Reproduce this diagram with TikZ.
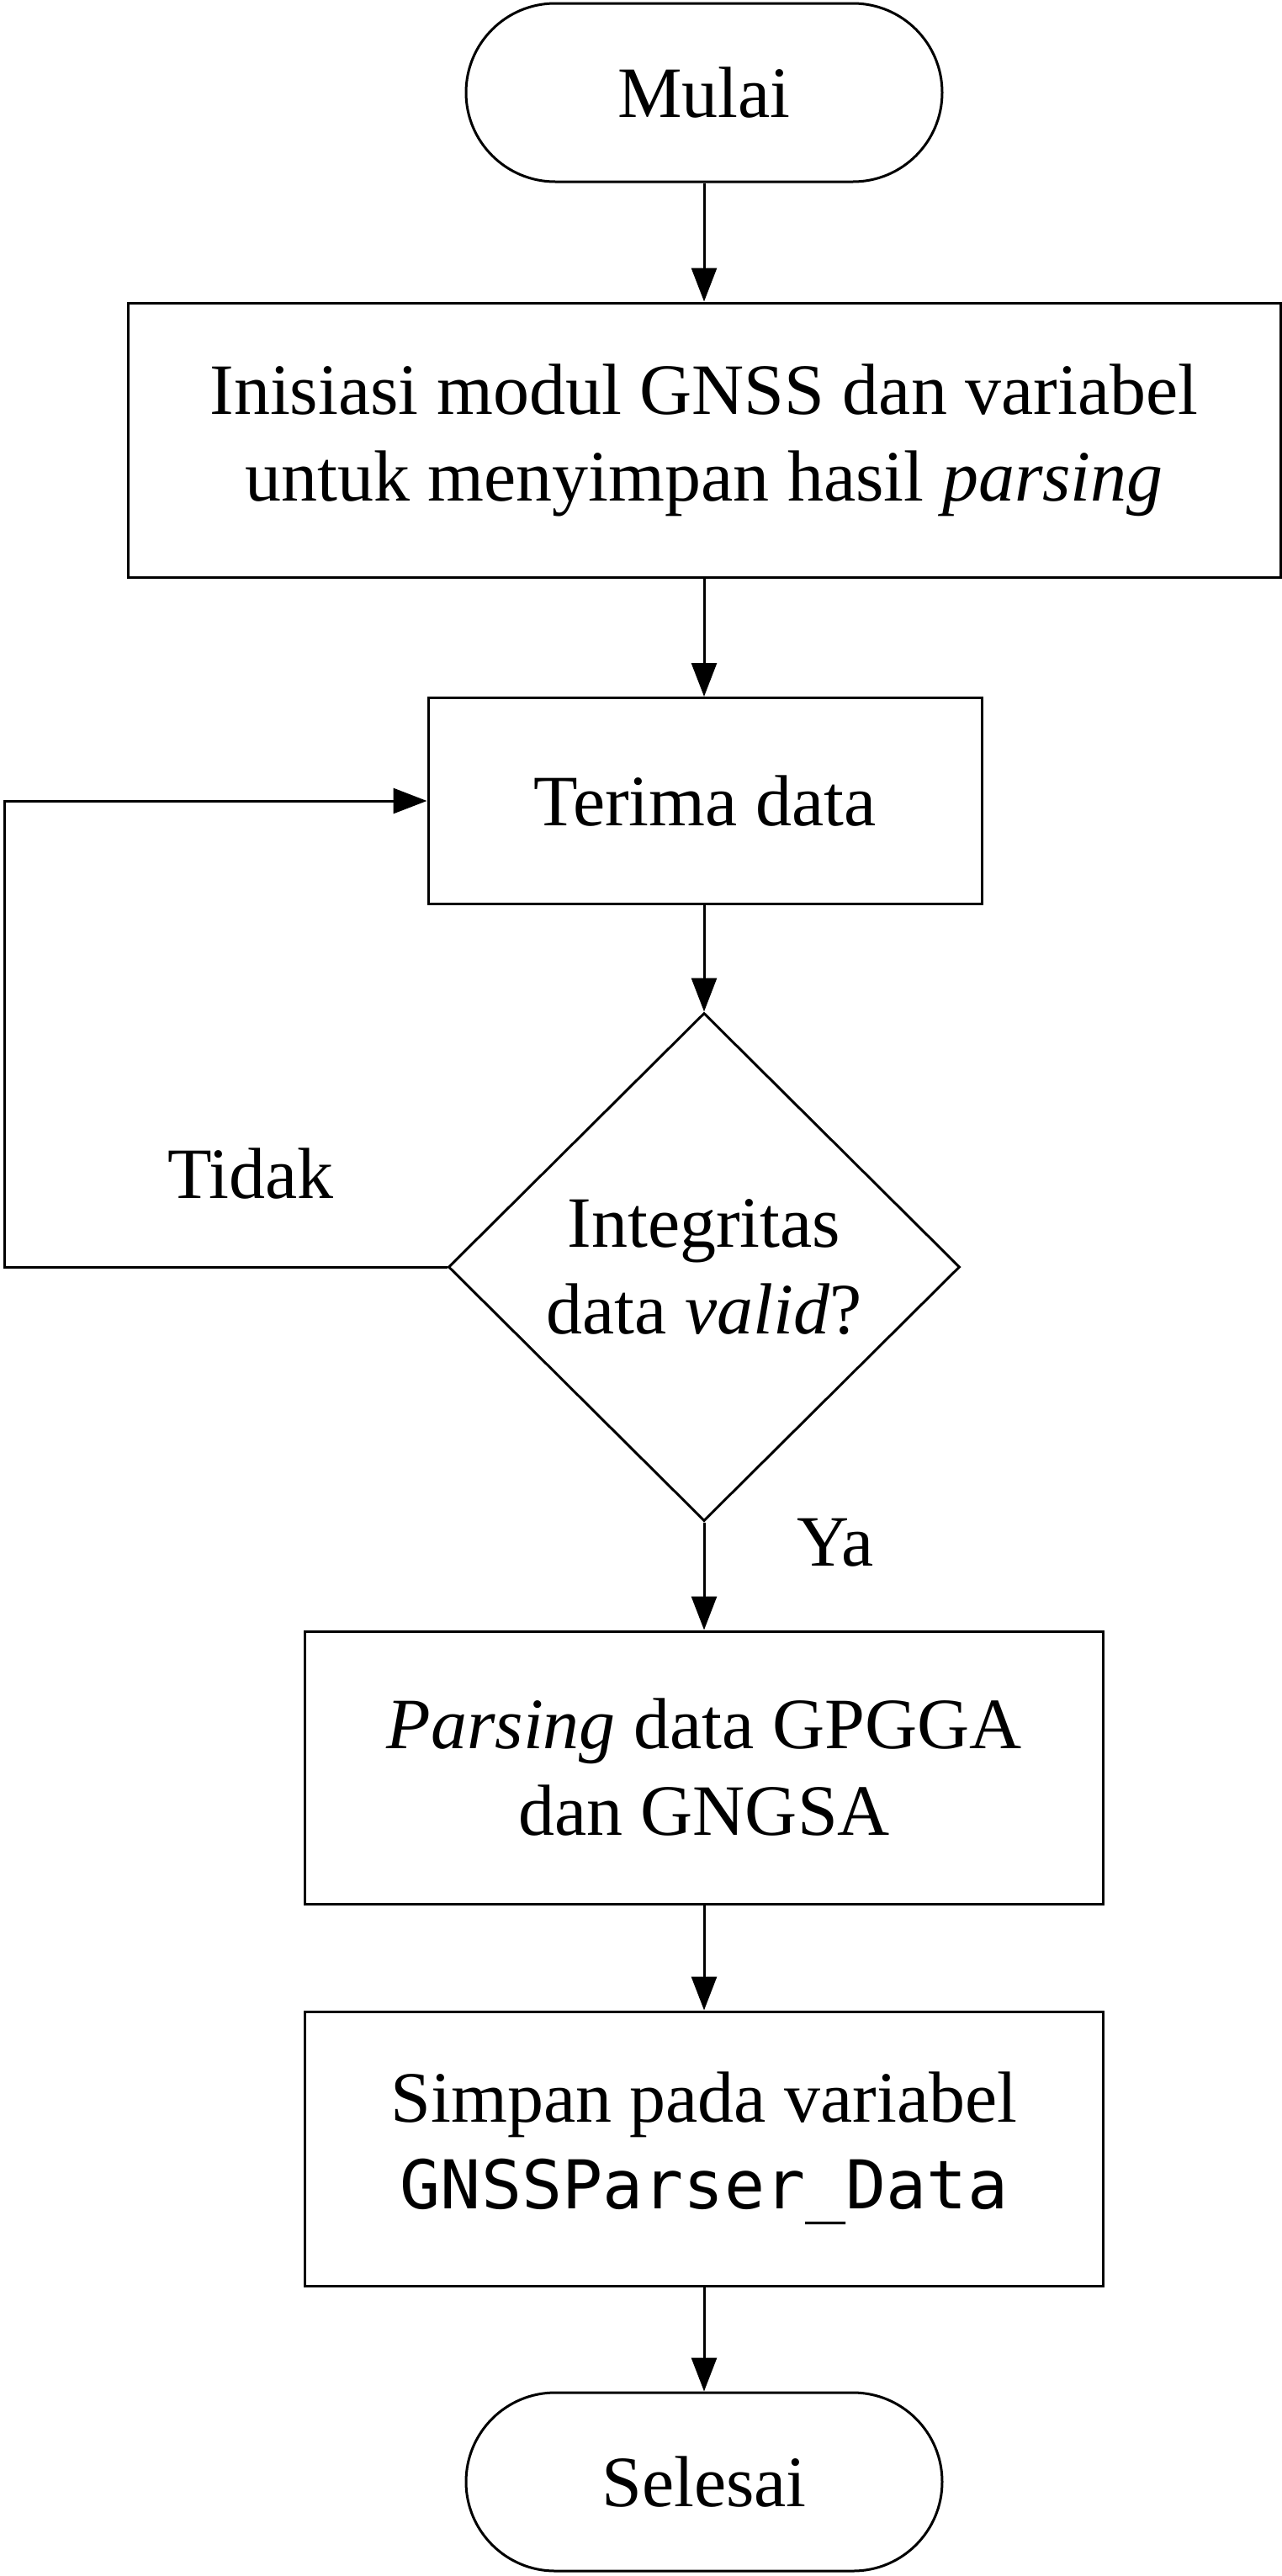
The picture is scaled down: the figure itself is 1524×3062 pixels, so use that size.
\documentclass[tikz,border=0pt]{standalone}
\usepackage{fontspec}
\setmainfont{Liberation Serif}
\setmonofont{DejaVu Sans Mono}
\usetikzlibrary{shapes.geometric,arrows.meta}
\begin{document}
\begin{tikzpicture}[x=0.5pt,y=-0.5pt,
  every node/.style={font=\fontsize{43pt}{51.5pt}\selectfont},
  term/.style={draw,line width=1.5pt,rectangle,rounded corners=53pt,minimum width=283pt,minimum height=106pt,inner sep=0pt},
  procbox/.style={draw,line width=1.5pt,rectangle,align=center,inner sep=0pt},
  decbox/.style={draw,line width=1.5pt,diamond,aspect=1,align=center,inner sep=0pt,minimum width=304pt,minimum height=302pt},
  lbl/.style={anchor=base,inner sep=0pt},
  arr/.style={line width=1.5pt,-{Triangle[length=20pt,width=15pt]}}]
\useasboundingbox (0,0) rectangle (1524,3062);
\node[term] (start) at (837,110) {Mulai};
\node[procbox,minimum width=685pt,minimum height=163pt] (init) at (837,523) {Inisiasi modul GNSS dan variabel\\untuk menyimpan hasil \textit{parsing}};
\node[procbox,minimum width=329pt,minimum height=122.5pt] (recv) at (838,952) {Terima data};
\node[decbox] (dec) at (837,1506) {Integritas\\data \textit{valid}?};
\node[procbox,minimum width=474.5pt,minimum height=162pt] (parse) at (837,2101) {\textit{Parsing} data GPGGA\\dan GNGSA};
\node[procbox,minimum width=474.5pt,minimum height=163pt] (save) at (837,2554) {Simpan pada variabel\\{\fontsize{40pt}{51.5pt}\selectfont\ttfamily GNSSParser\_Data}};
\node[term] (stop) at (837,2950) {Selesai};
\node[lbl] (tidak) at (298,1424) {Tidak};
\node[lbl] (ya) at (993,1861) {Ya};
\coordinate (lp) at (5,0);
\draw[arr] (start) -- (init);
\draw[arr] (init) -- (init.south |- recv.north);
\draw[arr] (recv.south -| dec.north) -- (dec.north);
\draw[arr] (dec.west) -- (dec.west -| lp) |- (recv.west);
\draw[arr] (dec.south) -- (dec.south |- parse.north);
\draw[arr] (parse) -- (save);
\draw[arr] (save) -- (stop);
\end{tikzpicture}
\end{document}
